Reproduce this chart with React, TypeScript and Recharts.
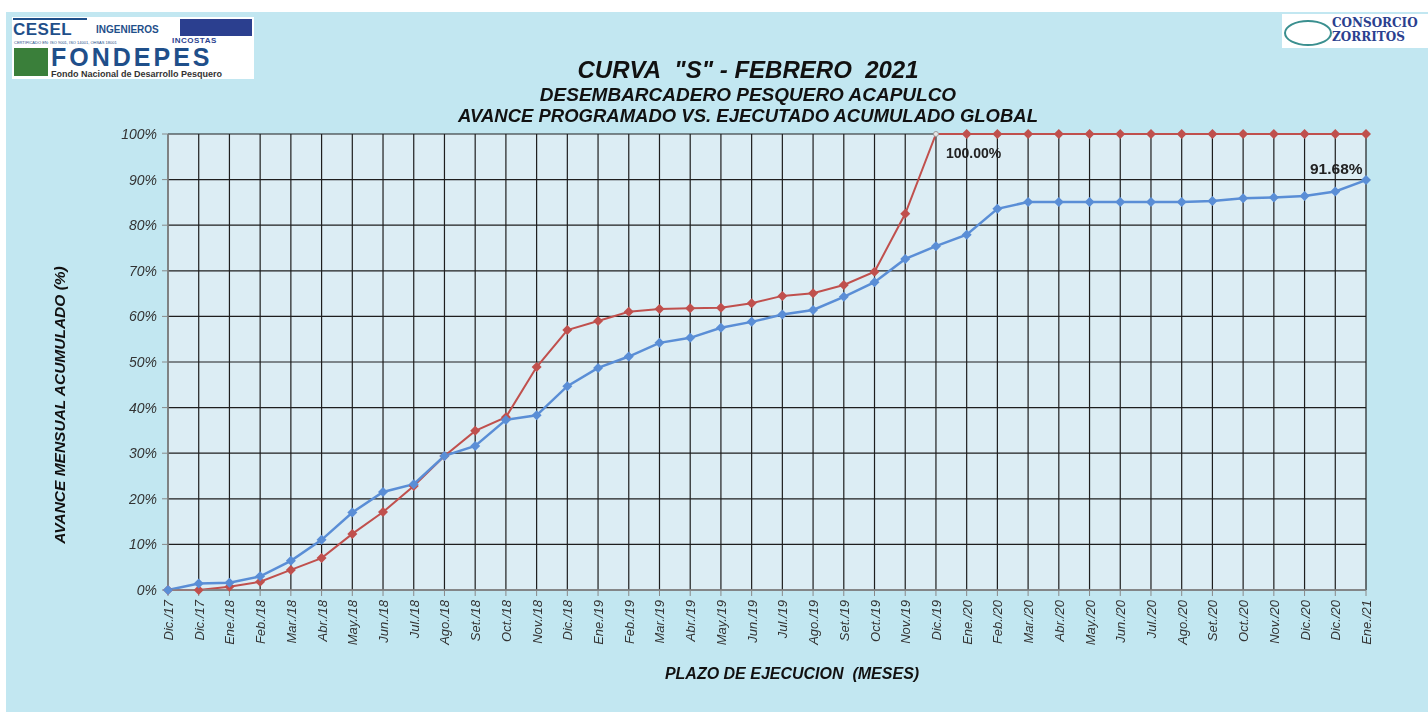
import React from "react"
import { LineChart, Line, XAxis, YAxis, CartesianGrid } from "recharts"

const meses = [
  "Dic./17", "Dic./17", "Ene./18", "Feb./18", "Mar./18", "Abr./18", "May./18", "Jun./18",
  "Jul./18", "Ago./18", "Set./18", "Oct./18", "Nov./18", "Dic./18", "Ene./19", "Feb./19",
  "Mar./19", "Abr./19", "May./19", "Jun./19", "Jul./19", "Ago./19", "Set./19", "Oct./19",
  "Nov./19", "Dic./19", "Ene./20", "Feb./20", "Mar./20", "Abr./20", "May./20", "Jun./20",
  "Jul./20", "Ago./20", "Set./20", "Oct./20", "Nov./20", "Dic./20", "Dic./20", "Ene./21",
]

// % acumulado programado
const programado = [
  0, 0, 0.7, 1.8, 4.4, 7.0, 12.3, 17.1, 22.8, 29.4, 34.9, 37.9, 48.9, 57.0, 59.0, 61.0,
  61.6, 61.8, 61.9, 62.9, 64.5, 65.1, 66.9, 69.8, 82.5, 100, 100, 100, 100, 100, 100, 100,
  100, 100, 100, 100, 100, 100, 100, 100,
]

// % acumulado ejecutado
const ejecutado = [
  0, 1.4, 1.6, 3.0, 6.4, 11.0, 17.0, 21.5, 23.2, 29.4, 31.6, 37.3, 38.3, 44.7, 48.7, 51.2,
  54.2, 55.3, 57.5, 58.8, 60.4, 61.4, 64.3, 67.5, 72.6, 75.4, 77.9, 83.6, 85.1, 85.1, 85.1, 85.1,
  85.1, 85.1, 85.3, 85.9, 86.1, 86.4, 87.4, 89.9,
]

const yTicks = [0, 10, 20, 30, 40, 50, 60, 70, 80, 90, 100]

const data = meses.map((mes, i) => ({ mes, prog: programado[i], ejec: ejecutado[i] }))

const FONT = "'Liberation Sans', Arial, sans-serif"
const RED = "#c0504d"
const BLUE = "#5a8ed6"

const Diamond = (color: string, size: number) => (props: any) => {
  const { cx, cy, index } = props
  if (cx == null || cy == null) return <g key={index} />
  return (
    <path
      key={index}
      d={`M${cx},${cy - size} L${cx + size},${cy} L${cx},${cy + size} L${cx - size},${cy} Z`}
      fill={color}
    />
  )
}

const RedDot = (props: any) => {
  const { cx, cy, index } = props
  if (index === 25) {
    return <circle key={index} cx={cx} cy={cy} r={2.5} fill="#e8e8e8" stroke="#999" strokeWidth={1} />
  }
  return Diamond(RED, 5)(props)
}

const XTick = (props: any) => {
  const { x, y, payload } = props
  return (
    <text
      x={x}
      y={y}
      transform={`rotate(-90, ${x}, ${y})`}
      dx={-2}
      dy={5}
      textAnchor="end"
      fontSize={13}
      fontStyle="italic"
      fill="#333"
      fontFamily={FONT}
    >
      {payload.value}
    </text>
  )
}

const titleStyle: React.CSSProperties = {
  position: "absolute", left: 0, width: 1496, textAlign: "center", fontStyle: "italic",
  fontWeight: 700, color: "#111", whiteSpace: "nowrap",
}

const abs = (s: React.CSSProperties): React.CSSProperties => ({ position: "absolute", whiteSpace: "nowrap", ...s })

export default function App() {
  return (
    <div style={{ position: "fixed", left: 0, top: 0, width: 1428, height: 715, background: "#fff", fontFamily: FONT }}>
      <div style={{ position: "absolute", left: 6, top: 12, width: 1422, height: 700, background: "#c2e7f1" }} />

      {/* logos */}
      <div style={{ position: "absolute", left: 12, top: 17, width: 242, height: 62, background: "#fff", overflow: "hidden" }}>
        <div style={abs({ left: 1, top: 1, width: 74, height: 2, background: "#1f4f8a" })} />
        <div style={abs({ left: 1, top: 3, fontWeight: 900, fontSize: 17, lineHeight: "20px", color: "#1f4f8a", letterSpacing: 0.5 })}>CESEL</div>
        <div style={abs({ left: 84, top: 7, fontWeight: 700, fontSize: 10, lineHeight: "12px", color: "#1f4f8a" })}>INGENIEROS</div>
        <div style={abs({ left: 168, top: 2, width: 72, height: 17, background: "#2b3f8f" })} />
        <div style={abs({ left: 2, top: 24, fontSize: 4, lineHeight: "4px", color: "#1f4f8a" })}>CERTIFICADO EN: ISO 9001, ISO 14001, OHSAS 18001</div>
        <div style={abs({ left: 160, top: 20, fontWeight: 700, fontSize: 8, lineHeight: "8px", color: "#2b3f8f", letterSpacing: 0.5 })}>INCOSTAS</div>
        <div style={abs({ left: 2, top: 31, width: 34, height: 28, background: "#3a7f3a" })} />
        <div style={abs({ left: 39, top: 30, fontWeight: 900, fontSize: 25, lineHeight: "21px", color: "#1f4f8a", letterSpacing: 3 })}>FONDEPES</div>
        <div style={abs({ left: 39, top: 52, fontWeight: 700, fontSize: 9, lineHeight: "10px", color: "#333" })}>Fondo Nacional de Desarrollo Pesquero</div>
      </div>
      <div style={{ position: "absolute", left: 1282, top: 14, width: 146, height: 34, background: "#fff" }}>
        <div style={{ position: "absolute", left: 2, top: 6, width: 44, height: 22, borderRadius: "50%", border: "2px solid #3a8f8f" }} />
        <div style={{ position: "absolute", left: 50, top: 2, fontFamily: "'DejaVu Serif', 'Liberation Serif', serif", fontWeight: 700, fontSize: 12, color: "#2b3f8f", lineHeight: "14px" }}>
          CONSORCIO<br />ZORRITOS
        </div>
      </div>

      {/* titles */}
      <div style={{ ...titleStyle, top: 56, fontSize: 24 }}>
        CURVA&nbsp;&nbsp;"S" - FEBRERO&nbsp;&nbsp;2021
      </div>
      <div style={{ ...titleStyle, top: 84, fontSize: 19 }}>
        DESEMBARCADERO PESQUERO ACAPULCO
      </div>
      <div style={{ ...titleStyle, top: 105, fontSize: 18.5 }}>
        AVANCE PROGRAMADO VS. EJECUTADO ACUMULADO GLOBAL
      </div>

      <div style={{ position: "absolute", left: 0, top: 0 }}>
        <LineChart width={1428} height={715} data={data} margin={{ top: 134, right: 62, left: 108, bottom: 55 }}>
          <CartesianGrid stroke="#1e1e1e" strokeWidth={1.2} fill="#dcedf4" fillOpacity={1} />
          <XAxis
            dataKey="mes"
            interval={0}
            height={70}
            tick={<XTick />}
            tickLine={{ stroke: "#888" }}
            tickSize={6}
            axisLine={{ stroke: "#888", strokeWidth: 1.5 }}
            padding={{ left: 0, right: 0 }}
          />
          <YAxis
            width={60}
            domain={[0, 100]}
            ticks={yTicks}
            interval={0}
            tickFormatter={(v: number) => `${v}%`}
            tick={{ fontSize: 14, fontStyle: "italic", fill: "#333", fontFamily: FONT }}
            tickLine={{ stroke: "#888" }}
            tickSize={6}
            tickMargin={5}
            axisLine={{ stroke: "#888", strokeWidth: 1.5 }}
          />
          <Line
            type="linear"
            dataKey="prog"
            stroke={RED}
            strokeWidth={2}
            dot={<RedDot />}
            activeDot={false}
            isAnimationActive={false}
          />
          <Line
            type="linear"
            dataKey="ejec"
            stroke={BLUE}
            strokeWidth={2.5}
            dot={Diamond(BLUE, 5)}
            activeDot={false}
            isAnimationActive={false}
          />
        </LineChart>
      </div>

      {/* data labels */}
      <div style={{ position: "absolute", left: 946, top: 145, fontWeight: 700, fontSize: 14, color: "#222" }}>100.00%</div>
      <div style={{ position: "absolute", left: 1310, top: 160, fontWeight: 700, fontSize: 15.5, color: "#222" }}>91.68%</div>

      {/* axis titles */}
      <div
        style={{
          position: "absolute", left: 60, top: 405, transform: "translate(-50%, -50%) rotate(-90deg)",
          whiteSpace: "nowrap", fontStyle: "italic", fontWeight: 700, fontSize: 15.5, color: "#111",
        }}
      >
        AVANCE MENSUAL ACUMULADO (%)
      </div>
      <div style={{ ...titleStyle, width: 1584, top: 665, fontSize: 16 }}>
        PLAZO DE EJECUCION&nbsp;&nbsp;(MESES)
      </div>
    </div>
  )
}
